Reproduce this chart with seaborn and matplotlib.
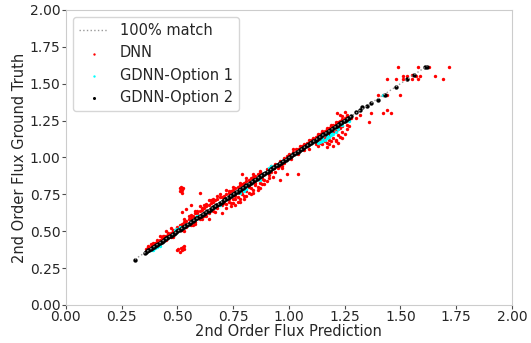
import matplotlib
matplotlib.use("Agg")
import matplotlib.pyplot as plt
import seaborn as sns
import pandas as pd

# GDNN-Option 2 predictions vs. ground truth
gdnn2_pred = [0.31, 0.355, 0.36, 0.365, 0.37, 0.375, 0.38, 0.385, 0.39, 0.395, 0.40, 0.405,
              0.41, 0.415, 0.42, 0.425, 0.43, 0.435, 0.44, 0.445, 0.45, 0.455, 0.46, 0.465,
              0.47, 0.475, 0.48, 0.485, 0.49, 0.495, 0.50, 0.505, 0.51, 0.515, 0.52, 0.525,
              0.53, 0.535, 0.54, 0.545, 0.55, 0.555, 0.56, 0.565, 0.57, 0.575, 0.58, 0.585,
              0.59, 0.595, 0.60, 0.605, 0.61, 0.615, 0.62, 0.625, 0.63, 0.635, 0.64, 0.645,
              0.65, 0.655, 0.66, 0.665, 0.67, 0.675, 0.68, 0.685, 0.69, 0.695, 0.70, 0.705,
              0.71, 0.715, 0.72, 0.725, 0.73, 0.735, 0.74, 0.745, 0.75, 0.755, 0.76, 0.765,
              0.77, 0.775, 0.78, 0.785, 0.79, 0.795, 0.80, 0.805, 0.81, 0.815, 0.82, 0.825,
              0.83, 0.835, 0.84, 0.845, 0.85, 0.855, 0.86, 0.865, 0.87, 0.875, 0.88, 0.885,
              0.89, 0.895, 0.90, 0.905, 0.91, 0.915, 0.92, 0.925, 0.93, 0.935, 0.94, 0.945,
              0.95, 0.955, 0.96, 0.965, 0.97, 0.975, 0.98, 0.985, 0.99, 0.995, 1.00, 1.005,
              1.01, 1.015, 1.02, 1.025, 1.03, 1.035, 1.04, 1.045, 1.05, 1.055, 1.06, 1.065,
              1.07, 1.075, 1.08, 1.085, 1.09, 1.095, 1.10, 1.105, 1.11, 1.115, 1.12, 1.125,
              1.13, 1.135, 1.14, 1.145, 1.15, 1.155, 1.16, 1.165, 1.17, 1.175, 1.18, 1.185,
              1.19, 1.195, 1.20, 1.205, 1.21, 1.215, 1.22, 1.225, 1.23, 1.235, 1.24, 1.245,
              1.25, 1.255, 1.26, 1.265, 1.27, 1.28, 1.30, 1.32, 1.33, 1.35, 1.37, 1.40,
              1.43, 1.48, 1.53, 1.56, 1.61, 1.62]
gdnn2_true = [0.305, 0.355, 0.362, 0.364, 0.371, 0.374, 0.381, 0.384, 0.391, 0.395, 0.40, 0.406,
              0.409, 0.416, 0.421, 0.424, 0.43, 0.436, 0.439, 0.446, 0.451, 0.454, 0.46, 0.466,
              0.469, 0.476, 0.481, 0.484, 0.49, 0.496, 0.499, 0.506, 0.511, 0.514, 0.52, 0.526,
              0.529, 0.536, 0.541, 0.544, 0.55, 0.556, 0.559, 0.566, 0.571, 0.574, 0.58, 0.586,
              0.589, 0.596, 0.601, 0.604, 0.61, 0.616, 0.619, 0.626, 0.631, 0.634, 0.64, 0.646,
              0.649, 0.656, 0.661, 0.664, 0.67, 0.676, 0.679, 0.686, 0.691, 0.694, 0.70, 0.706,
              0.709, 0.716, 0.721, 0.724, 0.73, 0.736, 0.739, 0.746, 0.751, 0.754, 0.76, 0.766,
              0.769, 0.776, 0.781, 0.784, 0.79, 0.796, 0.799, 0.806, 0.811, 0.814, 0.82, 0.826,
              0.829, 0.836, 0.841, 0.844, 0.85, 0.856, 0.859, 0.866, 0.871, 0.874, 0.88, 0.886,
              0.889, 0.896, 0.901, 0.904, 0.91, 0.916, 0.919, 0.926, 0.931, 0.934, 0.94, 0.946,
              0.949, 0.956, 0.961, 0.964, 0.97, 0.976, 0.979, 0.986, 0.991, 0.994, 1.00, 1.006,
              1.009, 1.016, 1.021, 1.024, 1.03, 1.036, 1.039, 1.046, 1.051, 1.054, 1.06, 1.066,
              1.069, 1.076, 1.081, 1.084, 1.09, 1.096, 1.099, 1.106, 1.111, 1.114, 1.12, 1.126,
              1.129, 1.136, 1.141, 1.144, 1.15, 1.156, 1.159, 1.166, 1.171, 1.174, 1.18, 1.186,
              1.189, 1.196, 1.201, 1.204, 1.21, 1.216, 1.219, 1.226, 1.231, 1.234, 1.24, 1.246,
              1.249, 1.256, 1.261, 1.264, 1.27, 1.28, 1.31, 1.32, 1.34, 1.35, 1.37, 1.39,
              1.42, 1.48, 1.53, 1.56, 1.61, 1.61]

# GDNN-Option 1 predictions vs. ground truth
gdnn1_pred = [0.37, 0.38, 0.39, 0.40, 0.41, 0.42, 0.49, 0.50, 0.51, 0.59, 0.62, 0.64,
              0.66, 0.69, 0.78, 0.80, 0.81, 0.87, 0.91, 0.92, 1.13, 1.14, 1.15, 1.16,
              1.17, 1.18, 1.19, 1.20, 1.21, 1.15, 1.17, 1.19, 1.22, 1.24, 1.27, 1.42]
gdnn1_true = [0.365, 0.37, 0.375, 0.385, 0.39, 0.40, 0.505, 0.515, 0.525, 0.60, 0.625, 0.635,
              0.655, 0.675, 0.76, 0.77, 0.785, 0.85, 0.93, 0.945, 1.10, 1.105, 1.11, 1.12,
              1.13, 1.14, 1.15, 1.16, 1.17, 1.13, 1.15, 1.165, 1.19, 1.22, 1.25, 1.42]

# DNN predictions vs. ground truth
dnn_pred = [
    # low range, just above the diagonal
    0.36, 0.37, 0.38, 0.39, 0.40, 0.41, 0.42, 0.43, 0.44, 0.45, 0.46, 0.47, 0.48, 0.49, 0.50,
    0.42, 0.435, 0.38, 0.40, 0.45, 0.47,
    0.37, 0.39, 0.41, 0.43, 0.44, 0.46, 0.48, 0.50, 0.48, 0.47, 0.45,
    # two off-diagonal groups near 0.52
    0.51, 0.515, 0.52, 0.515, 0.52, 0.525, 0.51,
    0.50, 0.505, 0.51, 0.52, 0.525, 0.53, 0.515, 0.53,
    0.60, 0.56, 0.54, 0.52,
    # 0.5 - 0.7
    0.51, 0.52, 0.53, 0.54, 0.55, 0.56, 0.57, 0.58, 0.59, 0.60, 0.61, 0.62, 0.63, 0.64,
    0.65, 0.66, 0.67, 0.68, 0.69, 0.70,
    0.52, 0.54, 0.56, 0.58, 0.60, 0.62, 0.64, 0.66, 0.68, 0.70,
    0.55, 0.58, 0.62, 0.65, 0.68, 0.57, 0.63, 0.67, 0.61,
    0.53, 0.56, 0.59, 0.61, 0.63, 0.66, 0.69, 0.64, 0.70, 0.53, 0.58, 0.60, 0.64,
    # 0.7 - 0.9
    0.71, 0.72, 0.73, 0.74, 0.75, 0.76, 0.77, 0.78, 0.79, 0.80, 0.81, 0.82, 0.83, 0.84,
    0.85, 0.86, 0.87,
    0.71, 0.72, 0.73, 0.74, 0.75, 0.76, 0.77, 0.78, 0.79, 0.80, 0.81, 0.82, 0.83, 0.84,
    0.85, 0.86, 0.87, 0.88, 0.89, 0.90,
    0.74, 0.77, 0.80, 0.83, 0.86, 0.76,
    0.72, 0.75, 0.78, 0.81, 0.84, 0.87, 0.72, 0.75, 0.78, 0.81, 0.84, 0.87, 0.89,
    0.73, 0.76, 0.79, 0.82, 0.85, 0.88, 0.73,
    0.79, 0.93, 0.96, 0.99, 1.04, 0.88, 0.91,
    # 0.9 - 1.1
    0.90, 0.92, 0.94, 0.96, 0.98, 1.00, 1.02, 1.04, 1.06, 1.08, 1.10,
    0.92, 0.95, 0.98, 1.01, 1.04, 1.07, 1.09, 1.02, 0.97,
    0.91, 0.94, 0.97, 0.935, 0.955, 0.99, 1.03, 1.05, 1.07, 1.09,
    # 1.1 - 1.3
    1.11, 1.12, 1.13, 1.14, 1.15, 1.16, 1.17, 1.18, 1.19, 1.20, 1.21, 1.22, 1.23, 1.24,
    1.25, 1.26,
    1.12, 1.13, 1.14, 1.15, 1.16, 1.17, 1.18, 1.19, 1.20, 1.21, 1.22, 1.23, 1.24, 1.25,
    1.26, 1.27,
    1.15, 1.17, 1.19, 1.21, 1.23, 1.20, 1.17, 1.22,
    1.13, 1.14, 1.16, 1.18, 1.20, 1.22, 1.24, 1.26, 1.13, 1.15, 1.17, 1.19, 1.21, 1.24,
    1.26, 1.18, 1.21, 1.24,
    1.215, 1.25, 1.28, 1.30, 1.32, 1.23,
    # upper range
    1.36, 1.37, 1.42, 1.44, 1.46, 1.40, 1.42, 1.44, 1.50, 1.44, 1.48, 1.51, 1.53, 1.55,
    1.58, 1.51, 1.53, 1.55, 1.57, 1.59, 1.655, 1.69, 1.49, 1.58, 1.63, 1.72]
dnn_true = [
    0.38, 0.39, 0.395, 0.41, 0.42, 0.425, 0.44, 0.45, 0.455, 0.47, 0.48, 0.485, 0.50, 0.51, 0.52,
    0.47, 0.47, 0.41, 0.40, 0.44, 0.46,
    0.40, 0.42, 0.44, 0.46, 0.47, 0.49, 0.51, 0.53, 0.46, 0.52, 0.50,
    0.79, 0.80, 0.78, 0.77, 0.76, 0.79, 0.775,
    0.37, 0.38, 0.36, 0.37, 0.39, 0.38, 0.385, 0.40,
    0.76, 0.68, 0.65, 0.63,
    0.54, 0.55, 0.56, 0.57, 0.585, 0.59, 0.60, 0.62, 0.625, 0.64, 0.645, 0.655, 0.67, 0.675,
    0.69, 0.695, 0.71, 0.715, 0.73, 0.735,
    0.51, 0.525, 0.545, 0.565, 0.585, 0.60, 0.62, 0.64, 0.66, 0.68,
    0.60, 0.64, 0.68, 0.71, 0.74, 0.545, 0.60, 0.63, 0.58,
    0.58, 0.61, 0.64, 0.66, 0.685, 0.72, 0.75, 0.58, 0.62, 0.50, 0.55, 0.67, 0.71,
    0.74, 0.755, 0.76, 0.775, 0.78, 0.79, 0.80, 0.815, 0.82, 0.83, 0.84, 0.85, 0.86, 0.87,
    0.875, 0.89, 0.895,
    0.69, 0.685, 0.70, 0.69, 0.72, 0.715, 0.73, 0.72, 0.75, 0.74, 0.77, 0.76, 0.79, 0.78,
    0.81, 0.80, 0.83, 0.82, 0.85, 0.84,
    0.67, 0.70, 0.72, 0.75, 0.78, 0.68,
    0.78, 0.80, 0.83, 0.86, 0.89, 0.91, 0.66, 0.69, 0.70, 0.74, 0.76, 0.79, 0.82,
    0.72, 0.74, 0.77, 0.80, 0.83, 0.855, 0.77,
    0.89, 0.87, 0.85, 0.89, 0.89, 0.86, 0.88,
    0.92, 0.94, 0.955, 0.975, 0.995, 1.02, 1.035, 1.055, 1.075, 1.10, 1.115,
    0.90, 0.93, 0.96, 0.99, 1.02, 1.05, 1.06, 1.06, 0.93,
    0.86, 0.90, 0.94, 0.925, 0.945, 1.01, 1.06, 1.08, 1.09, 1.12,
    1.13, 1.14, 1.15, 1.16, 1.17, 1.18, 1.19, 1.20, 1.21, 1.22, 1.23, 1.24, 1.25, 1.26,
    1.27, 1.28,
    1.09, 1.08, 1.10, 1.09, 1.11, 1.10, 1.12, 1.11, 1.13, 1.12, 1.15, 1.14, 1.17, 1.16,
    1.19, 1.21,
    1.12, 1.14, 1.16, 1.18, 1.20, 1.08, 1.07, 1.10,
    1.11, 1.12, 1.13, 1.15, 1.17, 1.19, 1.21, 1.22, 1.16, 1.18, 1.20, 1.22, 1.24, 1.28,
    1.29, 1.09, 1.11, 1.13,
    1.30, 1.31, 1.27, 1.27, 1.29, 1.29,
    1.24, 1.30, 1.30, 1.32, 1.30, 1.42, 1.42, 1.42, 1.42, 1.53, 1.53, 1.53, 1.53, 1.53,
    1.53, 1.55, 1.55, 1.56, 1.55, 1.55, 1.55, 1.53, 1.61, 1.61, 1.61, 1.61]

match_range = [0.31, 1.62]

sns.set_style("whitegrid", {"axes.grid": False, "xtick.bottom": True, "ytick.left": True})

fig = plt.figure(figsize=(5.31, 3.43), dpi=100)
ax = fig.add_axes([0.124, 0.111, 0.840, 0.860])

ax.plot(match_range, match_range, linestyle=":", color="0.6", linewidth=1.0,
        label="100% match")

dnn = pd.DataFrame({"pred": dnn_pred, "true": dnn_true})
g1 = pd.DataFrame({"pred": gdnn1_pred, "true": gdnn1_true})
g2 = pd.DataFrame({"pred": gdnn2_pred, "true": gdnn2_true})

sns.scatterplot(data=dnn, x="pred", y="true", color="red", s=6, linewidth=0,
                ax=ax, label="DNN")
sns.scatterplot(data=g1, x="pred", y="true", color="cyan", s=6, linewidth=0,
                ax=ax, label="GDNN-Option 1")
sns.scatterplot(data=g2, x="pred", y="true", color="black", s=10, linewidth=0,
                ax=ax, label="GDNN-Option 2")

ax.set_xlim(0, 2)
ax.set_ylim(0, 2)
ticks = [0.0, 0.25, 0.5, 0.75, 1.0, 1.25, 1.5, 1.75, 2.0]
ax.set_xticks(ticks)
ax.set_yticks(ticks)
ax.set_xticklabels([f"{t:.2f}" for t in ticks])
ax.set_yticklabels([f"{t:.2f}" for t in ticks])
ax.tick_params(axis="both", labelsize=10, length=3, width=0.8, color="0.3", pad=1)
ax.set_xlabel("2nd Order Flux Prediction", fontsize=10.5, labelpad=0)
ax.set_ylabel("2nd Order Flux Ground Truth", fontsize=10.5, labelpad=2)

ax.legend(loc="upper left", fontsize=10.5, markerscale=0.7, handlelength=2.0,
          frameon=True)

fig.savefig("out.png", dpi=100)
